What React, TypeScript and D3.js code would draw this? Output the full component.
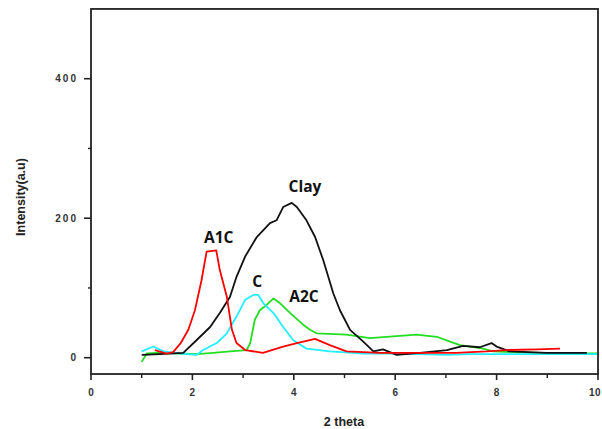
import React from "react";
import * as d3 from "d3";

const xTicksMajor = [0, 2, 4, 6, 8, 10];
const xTicksMinor = [1, 3, 5, 7, 9];
const yTicksMajor = [0, 200, 400];
const yTicksMinor = [100, 300];

const clayX = [1.0, 1.36, 1.82, 2.08, 2.35, 2.54, 2.74, 2.87, 3.04, 3.27, 3.53, 3.66, 3.79, 3.96, 4.06, 4.25, 4.42, 4.58, 4.78, 4.91, 5.11, 5.37, 5.57, 5.76, 6.03, 6.49, 7.02, 7.34, 7.67, 7.9, 8.0, 8.26, 8.99, 9.78];
const clayY = [4, 5, 7, 25, 44, 64, 87, 116, 145, 173, 193, 197, 216, 222, 216, 197, 173, 140, 92, 68, 40, 23, 9, 12, 4, 7, 11, 17, 15, 21, 16, 9, 7, 7];

const a1cX = [1.26, 1.49, 1.62, 1.77, 1.92, 2.05, 2.18, 2.28, 2.47, 2.54, 2.68, 2.78, 2.87, 3.04, 3.39, 3.79, 4.06, 4.42, 4.71, 5.04, 5.7, 6.5, 7.2, 7.8, 8.2, 8.8, 9.25];
const a1cY = [11, 6, 8, 21, 40, 68, 111, 152, 154, 126, 87, 40, 21, 11, 7, 16, 21, 27, 18, 9, 7, 7, 7, 9, 11, 12, 13];

const cX = [1.0, 1.23, 1.43, 1.76, 2.08, 2.21, 2.48, 2.68, 2.87, 3.04, 3.2, 3.3, 3.4, 3.6, 3.79, 3.99, 4.25, 4.71, 5.37, 6.0, 6.5, 7.0, 7.5, 8.0, 9.0, 10.0];
const cY = [9, 16, 9, 6, 4, 11, 21, 35, 59, 83, 90, 90, 78, 64, 44, 25, 13, 9, 6, 6, 5, 4, 5, 5, 5, 5];

const a2cX = [1.0, 1.1, 1.3, 1.76, 2.08, 2.41, 2.74, 3.07, 3.14, 3.23, 3.33, 3.47, 3.6, 3.73, 3.93, 4.19, 4.32, 4.45, 5.04, 5.5, 5.83, 6.42, 6.82, 7.08, 7.28, 7.73, 7.93, 9.19, 10.0];
const a2cY = [-6, 6, 7, 6, 5, 7, 9, 11, 21, 54, 68, 76, 85, 78, 64, 47, 40, 35, 33, 28, 30, 33, 30, 23, 18, 13, 9, 6, 6];

const seriesNames = ["A2C", "C", "Clay", "A1C"];
const seriesColors = ["#22dd22", "#22eeff", "#111111", "#ff0000"];
const seriesXs = [a2cX, cX, clayX, a1cX];
const seriesYs = [a2cY, cY, clayY, a1cY];

const labelText = ["A1C", "Clay", "C", "A2C"];
const labelX = [2.52, 4.22, 3.28, 4.2];
const labelY = [165, 238, 102, 80];

export default function App() {
  const W = 602, H = 429;
  const x = d3.scaleLinear().domain([0, 10]).range([91, 598]);
  const y = d3.scaleLinear().domain([0, 400]).range([357.7, 78.7]);
  const top = y(500), bottom = y(-23.4);
  const line = d3.line<[number, number]>().x(d => x(d[0])).y(d => y(d[1]));
  const tickFont = { fontFamily: "Liberation Sans, Arial, sans-serif", fontSize: 10, fontWeight: 700, letterSpacing: 2 } as const;
  return (
    <svg width={W} height={H} style={{ position: "absolute", left: 0, top: 0, background: "#fff" }}>
      <rect x={0} y={0} width={W} height={H} fill="#fff" />
      {seriesNames.map((n, i) => (
        <path key={n} d={line(seriesXs[i].map((v, j) => [v, seriesYs[i][j]]) as [number, number][]) || ""}
          fill="none" stroke={seriesColors[i]} strokeWidth={1.8} strokeLinejoin="round" />
      ))}
      <rect x={x(0)} y={top} width={x(10) - x(0)} height={bottom - top} fill="none" stroke="#222" strokeWidth={1.8} />
      {xTicksMajor.map(t => (
        <g key={"xm" + t}>
          <line x1={x(t)} x2={x(t)} y1={bottom} y2={bottom + 6} stroke="#222" strokeWidth={1.6} />
          <text x={t === 10 ? 601 : x(t) + 1} y={396} textAnchor={t === 10 ? "end" : "middle"} {...tickFont} letterSpacing={t === 10 ? 0.5 : 2} fill="#333">{t}</text>
        </g>
      ))}
      {xTicksMinor.map(t => (
        <line key={"xn" + t} x1={x(t)} x2={x(t)} y1={bottom} y2={bottom + 4} stroke="#222" strokeWidth={1.4} />
      ))}
      {yTicksMajor.map(t => (
        <g key={"ym" + t}>
          <line x1={x(0) - 7} x2={x(0)} y1={y(t)} y2={y(t)} stroke="#222" strokeWidth={1.6} />
          <text x={78} y={y(t) + 3.5} textAnchor="end" {...tickFont} fill="#333">{t}</text>
        </g>
      ))}
      {yTicksMinor.map(t => (
        <line key={"yn" + t} x1={x(0) - 3} x2={x(0)} y1={y(t)} y2={y(t)} stroke="#222" strokeWidth={1.4} />
      ))}
      <text x={344} y={426} textAnchor="middle" fontFamily="Liberation Sans, Arial, sans-serif" fontSize={12.5} fontWeight={700} fill="#222">2 theta</text>
      <text transform="translate(25,197) rotate(-90)" textAnchor="middle" fontFamily="Liberation Sans, Arial, sans-serif" fontSize={12.5} fontWeight={700} fill="#222">Intensity(a.u)</text>
      {labelText.map((t, i) => (
        <text key={t} x={x(labelX[i])} y={y(labelY[i])} textAnchor="middle" fontFamily="Open Sans, sans-serif" fontSize={15.5} fontWeight={700} fill="#111">{t}</text>
      ))}
    </svg>
  );
}
